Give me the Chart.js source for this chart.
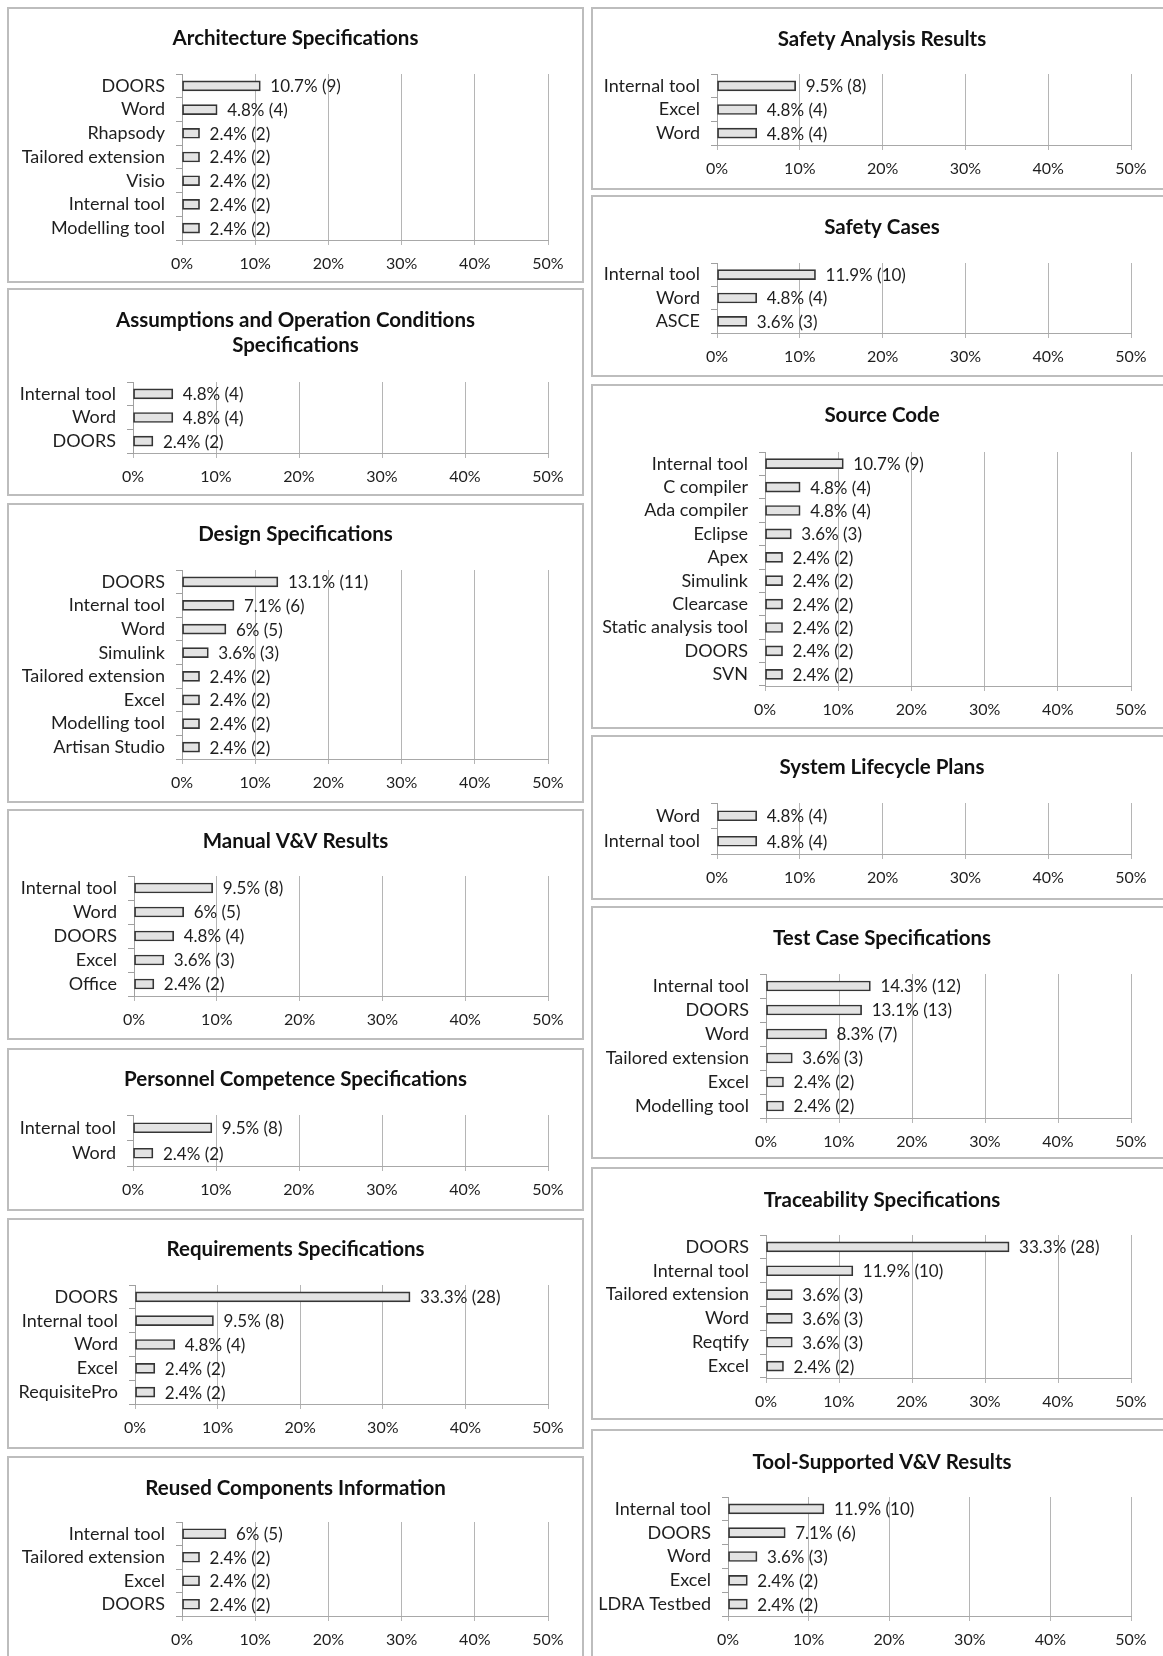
<!DOCTYPE html>
<html><head><meta charset="utf-8">
<script src="https://cdn.jsdelivr.net/npm/chart.js@4.4.0/dist/chart.umd.min.js"></script>
<style>
html,body{margin:0;padding:0;background:#fff;width:1163px;height:1656px;overflow:hidden;position:relative;}
.panel{position:absolute;border:2px solid #bdbdbd;box-sizing:border-box;background:#fff;}
.panel canvas{position:absolute;left:0;top:0;}
</style></head><body>
<script>
// ---------- DATA ----------
const xTickValues = [0, 10, 20, 30, 40, 50];

const archTools = ['DOORS','Word','Rhapsody','Tailored extension','Visio','Internal tool','Modelling tool'];
const archPct = [10.7,4.8,2.4,2.4,2.4,2.4,2.4];
const archN = [9,4,2,2,2,2,2];

const assumTools = ['Internal tool','Word','DOORS'];
const assumPct = [4.8,4.8,2.4];
const assumN = [4,4,2];

const designTools = ['DOORS','Internal tool','Word','Simulink','Tailored extension','Excel','Modelling tool','Artisan Studio'];
const designPct = [13.1,7.1,6,3.6,2.4,2.4,2.4,2.4];
const designN = [11,6,5,3,2,2,2,2];

const manualTools = ['Internal tool','Word','DOORS','Excel','Office'];
const manualPct = [9.5,6,4.8,3.6,2.4];
const manualN = [8,5,4,3,2];

const personnelTools = ['Internal tool','Word'];
const personnelPct = [9.5,2.4];
const personnelN = [8,2];

const reqTools = ['DOORS','Internal tool','Word','Excel','RequisitePro'];
const reqPct = [33.3,9.5,4.8,2.4,2.4];
const reqN = [28,8,4,2,2];

const reusedTools = ['Internal tool','Tailored extension','Excel','DOORS'];
const reusedPct = [6,2.4,2.4,2.4];
const reusedN = [5,2,2,2];

const safetyAnTools = ['Internal tool','Excel','Word'];
const safetyAnPct = [9.5,4.8,4.8];
const safetyAnN = [8,4,4];

const safetyCaseTools = ['Internal tool','Word','ASCE'];
const safetyCasePct = [11.9,4.8,3.6];
const safetyCaseN = [10,4,3];

const sourceTools = ['Internal tool','C compiler','Ada compiler','Eclipse','Apex','Simulink','Clearcase','Static analysis tool','DOORS','SVN'];
const sourcePct = [10.7,4.8,4.8,3.6,2.4,2.4,2.4,2.4,2.4,2.4];
const sourceN = [9,4,4,3,2,2,2,2,2,2];

const lifecycleTools = ['Word','Internal tool'];
const lifecyclePct = [4.8,4.8];
const lifecycleN = [4,4];

const testTools = ['Internal tool','DOORS','Word','Tailored extension','Excel','Modelling tool'];
const testPct = [14.3,13.1,8.3,3.6,2.4,2.4];
const testN = [12,13,7,3,2,2];

const traceTools = ['DOORS','Internal tool','Tailored extension','Word','Reqtify','Excel'];
const tracePct = [33.3,11.9,3.6,3.6,3.6,2.4];
const traceN = [28,10,3,3,3,2];

const toolVVTools = ['Internal tool','DOORS','Word','Excel','LDRA Testbed'];
const toolVVPct = [11.9,7.1,3.6,2.4,2.4];
const toolVVN = [10,6,3,2,2];

const panelTitles = [
  ['Architecture Specifications'],
  ['Assumptions and Operation Conditions','Specifications'],
  ['Design Specifications'],
  ['Manual V&V Results'],
  ['Personnel Competence Specifications'],
  ['Requirements Specifications'],
  ['Reused Components Information'],
  ['Safety Analysis Results'],
  ['Safety Cases'],
  ['Source Code'],
  ['System Lifecycle Plans'],
  ['Test Case Specifications'],
  ['Traceability Specifications'],
  ['Tool-Supported V&V Results']
];
const panelTools = [archTools,assumTools,designTools,manualTools,personnelTools,reqTools,reusedTools,
  safetyAnTools,safetyCaseTools,sourceTools,lifecycleTools,testTools,traceTools,toolVVTools];
const panelPct = [archPct,assumPct,designPct,manualPct,personnelPct,reqPct,reusedPct,
  safetyAnPct,safetyCasePct,sourcePct,lifecyclePct,testPct,tracePct,toolVVPct];
const panelN = [archN,assumN,designN,manualN,personnelN,reqN,reusedN,
  safetyAnN,safetyCaseN,sourceN,lifecycleN,testN,traceN,toolVVN];

// ---------- LAYOUT (pixels) ----------
const colLeft = [7, 591];
const colWidth = [577, 582];
const plotRight = [548, 1131];
// [column, boxTop, boxBottom, firstTitleY, gridTop, baseline, axisX]
const panelLayout = [
  [0, 7, 283, 38, 74, 240, 182],
  [0, 288, 496, 320, 382, 453, 133],
  [0, 503, 803, 534, 570, 759, 182],
  [0, 809, 1040, 841, 876, 996, 134],
  [0, 1048, 1211, 1079, 1115, 1166, 133],
  [0, 1218, 1449, 1249, 1285, 1404, 135],
  [0, 1456, 1672, 1488, 1522, 1616, 182],
  [1, 7, 190, 39, 74, 145, 717],
  [1, 195, 377, 227, 263, 333, 717],
  [1, 384, 729, 415, 452, 686, 765],
  [1, 735, 900, 767, 803, 854, 717],
  [1, 906, 1159, 938, 974, 1118, 766],
  [1, 1167, 1420, 1200, 1235, 1378, 766],
  [1, 1429, 1672, 1462, 1497, 1616, 728]
];
const BORDER = 2;
const FONT = 'Lato';
const TITLE_LINE = 25;
const TITLE_FONT = 'bold 20.5px ' + FONT;
const CAT_SIZE = 18;
const TICK_SIZE = 16;
const VALUE_FONT = '17px ' + FONT;

const panelTitlePlugin = {
  id: 'panelTitle',
  afterDraw(chart, args, opts) {
    const ctx = chart.ctx;
    ctx.save();
    ctx.font = TITLE_FONT;
    ctx.fillStyle = '#111';
    ctx.textAlign = 'center';
    ctx.textBaseline = 'middle';
    opts.lines.forEach((t, i) => ctx.fillText(t, chart.width / 2, opts.y + i * TITLE_LINE));
    ctx.restore();
  }
};
const valueLabelPlugin = {
  id: 'valueLabels',
  afterDatasetsDraw(chart) {
    const ds = chart.data.datasets[0];
    const meta = chart.getDatasetMeta(0);
    const ctx = chart.ctx;
    ctx.save();
    ctx.font = VALUE_FONT;
    ctx.fillStyle = '#1e1e1e';
    ctx.textAlign = 'left';
    ctx.textBaseline = 'middle';
    meta.data.forEach((bar, i) => {
      ctx.fillText(ds.data[i] + '% (' + ds.counts[i] + ')', bar.x + 10, bar.y + 1);
    });
    ctx.restore();
  }
};

function build() {
  panelLayout.forEach((L, idx) => {
    const [col, top, bottom, titleY, gridTop, baseline, axisX] = L;
    const div = document.createElement('div');
    div.className = 'panel';
    div.style.left = colLeft[col] + 'px';
    div.style.top = top + 'px';
    div.style.width = colWidth[col] + 'px';
    div.style.height = (bottom - top) + 'px';
    document.body.appendChild(div);
    const cw = colWidth[col] - 2 * BORDER;
    const ch = bottom - top - 2 * BORDER;
    const canvasLeft = colLeft[col] + BORDER;
    const canvasTop = top + BORDER;
    const cv = document.createElement('canvas');
    cv.width = cw; cv.height = ch;
    cv.style.width = cw + 'px'; cv.style.height = ch + 'px';
    div.appendChild(cv);
    const yAxisW = axisX - canvasLeft;
    const xAxisH = (canvasTop + ch) - baseline;
    new Chart(cv, {
      type: 'bar',
      data: {
        labels: panelTools[idx],
        datasets: [{
          data: panelPct[idx],
          counts: panelN[idx],
          backgroundColor: '#e3e3e3',
          borderColor: '#353535',
          borderWidth: 1.7,
          borderSkipped: false,
          barThickness: 10
        }]
      },
      options: {
        indexAxis: 'y',
        responsive: false,
        animation: false,
        devicePixelRatio: window.devicePixelRatio || 1,
        layout: { padding: { top: gridTop - canvasTop, bottom: 0, left: 0, right: canvasLeft + cw - plotRight[col] } },
        plugins: {
          legend: { display: false },
          tooltip: { enabled: false },
          title: { display: false },
          panelTitle: { lines: panelTitles[idx], y: titleY - canvasTop }
        },
        scales: {
          x: {
            min: 0, max: 50,
            afterBuildTicks: (s) => { s.ticks = xTickValues.map(v => ({ value: v })); },
            afterFit: (s) => { s.height = xAxisH; },
            grid: { color: '#b5b5b5', lineWidth: 1, tickLength: 5, drawTicks: true },
            border: { color: '#a8a8a8', width: 1 },
            ticks: { font: { family: FONT, size: TICK_SIZE }, color: '#1e1e1e', padding: 9,
                     maxRotation: 0, callback: (v) => v + '%' }
          },
          y: {
            afterFit: (s) => { s.width = yAxisW; },
            grid: { display: true, drawOnChartArea: false, drawTicks: true, tickLength: 6, color: '#a0a0a0', offset: true },
            border: { color: '#a0a0a0', width: 1 },
            ticks: { font: { family: FONT, size: CAT_SIZE }, color: '#1e1e1e', padding: 11, autoSkip: false }
          }
        }
      },
      plugins: [panelTitlePlugin, valueLabelPlugin]
    });
  });
}
const fontLoads = [document.fonts.load(CAT_SIZE + 'px ' + FONT), document.fonts.load(TITLE_FONT)];
Promise.all(fontLoads).then(build, build);
</script>
</body></html>
